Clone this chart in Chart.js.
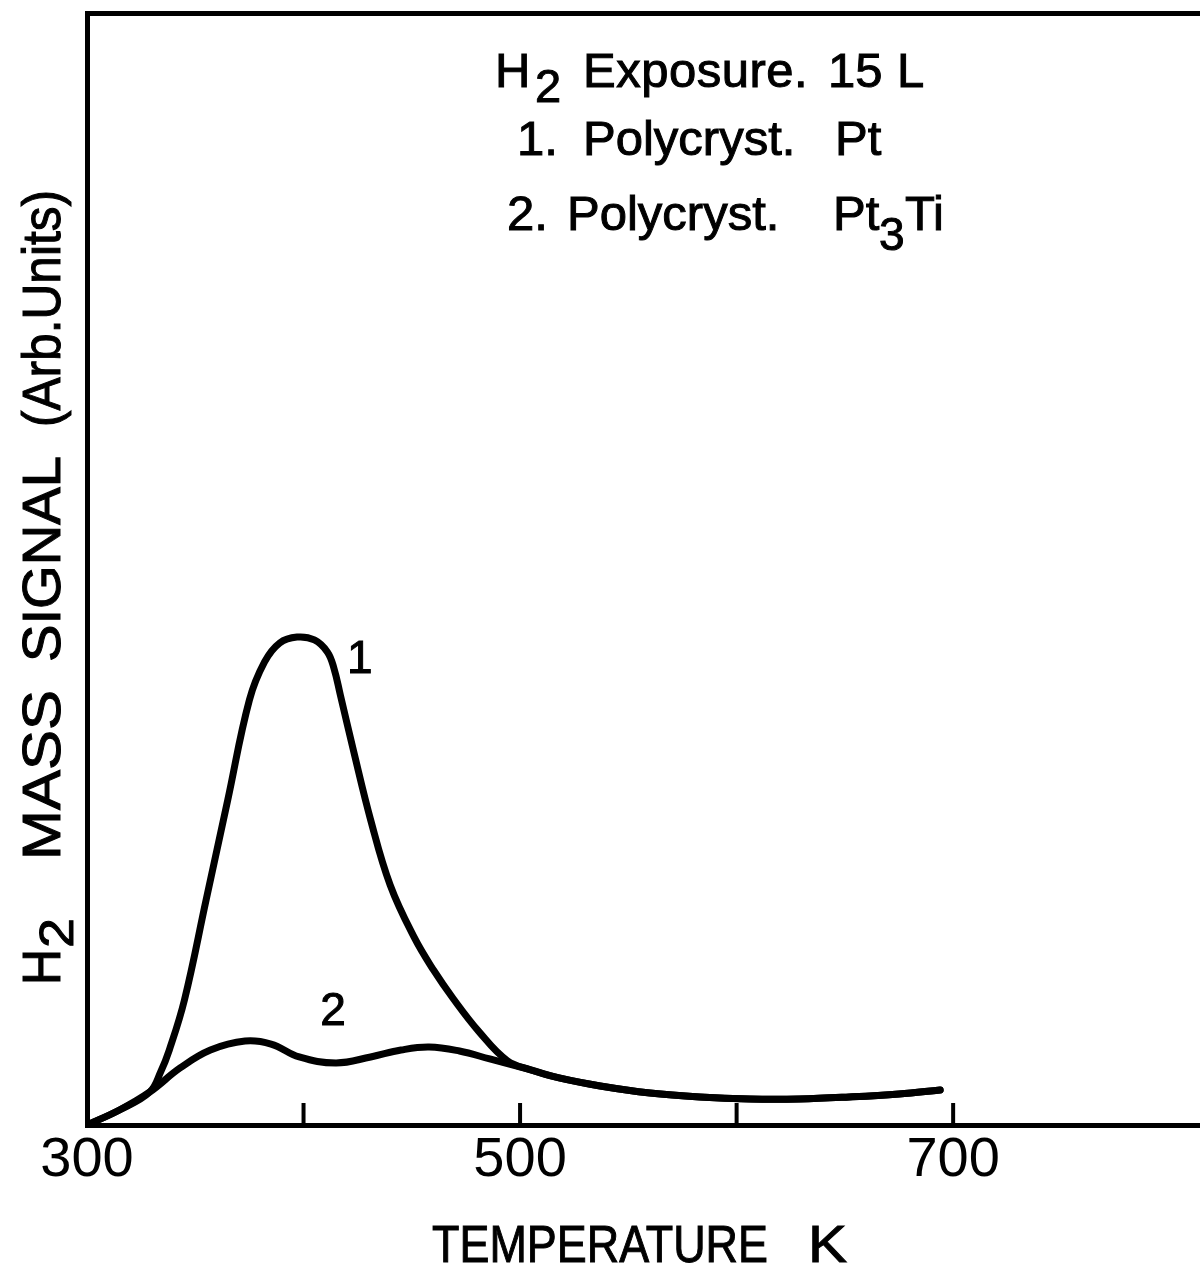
<!DOCTYPE html>
<html>
<head>
<meta charset="utf-8">
<script src="https://cdn.jsdelivr.net/npm/chart.js@4.4.0/dist/chart.umd.min.js"></script>
<style>
  html, body { margin: 0; padding: 0; background: #fff; }
</style>
</head>
<body>
<canvas id="tpd" width="1200" height="1273"></canvas>
<script>
// H2 desorption traces (temperature in K, signal in arb. units)
const temp_pt = [300, 315, 329, 334, 338, 345, 355, 365, 375, 382, 389, 397, 405, 411, 414, 417,
    423, 431, 440, 451, 460, 469, 481, 494, 505, 518, 537, 560, 583, 606, 629, 652, 675, 694];
const signal_pt = [0, 1.35, 2.97, 4.77, 6.74, 11.24, 20.23, 29.23, 38.22, 41.64, 43.35, 43.88, 43.62,
    42.54, 41.1, 38.67, 33.72, 27.43, 21.58, 16.91, 13.94, 11.4, 8.4, 5.8, 4.95, 4.23, 3.51, 2.88,
    2.52, 2.34, 2.34, 2.52, 2.79, 3.15];

const temp_pt3ti = [300, 315, 329, 343, 357, 373, 385, 398, 415, 431, 445, 458, 472, 486, 505,
    518, 537, 560, 583, 606, 629, 652, 675, 694];
const signal_pt3ti = [0, 1.35, 2.97, 5.13, 6.74, 7.55, 7.28, 6.12, 5.58, 6.12, 6.74, 7.01, 6.65, 5.94,
    4.95, 4.23, 3.51, 2.88, 2.52, 2.34, 2.34, 2.52, 2.79, 3.15];

const tick_values = [300, 400, 500, 600, 700];
const tick_labels = { 300: '300', 500: '500', 700: '700' };

const FONT = '"Liberation Sans", Arial, sans-serif';

function toPoints(xs, ys) {
    return xs.map((x, i) => ({ x: x, y: ys[i] }));
}

/**
 * Writes one piece of lettering; width squeezes it, spacing opens it up
 */
function put(ctx, text, x, y, size, width, spacing) {
    ctx.font = size + 'px ' + FONT;
    ctx.letterSpacing = (spacing || 0) + 'px';
    let m = ctx.measureText(text).width;
    ctx.save();
    ctx.translate(x, y);
    if (width) ctx.scale(width / m, 1);
    ctx.lineWidth = 1;
    ctx.fillText(text, 0, 0);
    ctx.strokeText(text, 0, 0);
    ctx.restore();
    ctx.letterSpacing = '0px';
}

const textPlugin = {
    id: 'figureText',
    afterDraw(chart) {
        const ctx = chart.ctx;
        const xs = chart.scales.x;
        const ys = chart.scales.y;
        const area = chart.chartArea;
        ctx.save();
        ctx.fillStyle = '#000';
        ctx.strokeStyle = '#000';

        // inward tick marks on the temperature axis
        ctx.lineWidth = 4;
        tick_values.slice(1).forEach(v => {
            let px = xs.getPixelForValue(v);
            ctx.beginPath();
            ctx.moveTo(px, area.bottom);
            ctx.lineTo(px, area.bottom - 22);
            ctx.stroke();
        });

        ctx.textBaseline = 'alphabetic';
        ctx.textAlign = 'left';
        // header
        put(ctx, 'H', 495, 87, 49);
        put(ctx, '2', 535, 102, 47);
        put(ctx, 'Exposure.', 583, 87, 49, 0, 0.5);
        put(ctx, '15', 828, 87, 49);
        put(ctx, 'L', 897, 87, 49);
        put(ctx, '1.', 517, 155, 49);
        put(ctx, 'Polycryst.', 583, 155, 49);
        put(ctx, 'Pt', 835, 155, 49);
        put(ctx, '2.', 507, 230, 49);
        put(ctx, 'Polycryst.', 567, 230, 49);
        put(ctx, 'Pt', 833, 230, 49);
        put(ctx, '3', 879, 250, 46);
        put(ctx, 'Ti', 905, 230, 49);

        // curve labels
        ctx.textAlign = 'center';
        ctx.textBaseline = 'middle';
        put(ctx, '1', xs.getPixelForValue(426), ys.getPixelForValue(41.8), 46);
        put(ctx, '2', xs.getPixelForValue(413.6), ys.getPixelForValue(10.1), 46);

        // axis titles
        ctx.textAlign = 'left';
        ctx.textBaseline = 'alphabetic';
        put(ctx, 'TEMPERATURE', 432, 1262, 52, 336);
        put(ctx, 'K', 808, 1262, 52, 39);

        ctx.translate(60, 0);
        ctx.rotate(-Math.PI / 2);
        // rotated frame: x runs up the page (x = -pageY), y runs right
        put(ctx, 'H', -985, 0, 53, 36);
        put(ctx, '2', -948, 13, 48, 30);
        put(ctx, 'MASS', -860, 0, 53, 170);
        put(ctx, 'SIGNAL', -662, 0, 53, 206);
        put(ctx, '(Arb.Units)', -427, 0, 53, 237);
        ctx.restore();
    }
};

const lineStyle = {
    borderColor: '#000',
    borderWidth: 7,
    pointRadius: 0,
    fill: false,
    tension: 0.4,
    borderCapStyle: 'round',
    borderJoinStyle: 'round'
};

const cfg = {
    type: 'line',
    data: {
        datasets: [
            Object.assign({ label: 'Polycryst. Pt', data: toPoints(temp_pt, signal_pt) }, lineStyle),
            Object.assign({ label: 'Polycryst. Pt3Ti', data: toPoints(temp_pt3ti, signal_pt3ti) }, lineStyle)
        ]
    },
    options: {
        responsive: false,
        animation: false,
        layout: { padding: 0 },
        plugins: {
            legend: { display: false },
            tooltip: { enabled: false }
        },
        scales: {
            x: {
                type: 'linear',
                position: 'bottom',
                min: 300,
                max: 814,
                afterBuildTicks: s => { s.ticks = tick_values.map(v => ({ value: v })); },
                afterFit: s => { s.height = 148; },
                grid: { display: false, drawTicks: false },
                border: { display: true, color: '#000', width: 5 },
                ticks: {
                    color: '#000',
                    padding: 2,
                    font: { family: FONT, size: 56 },
                    maxRotation: 0,
                    callback: v => tick_labels[v] || ''
                }
            },
            x2: {
                type: 'linear',
                position: 'top',
                min: 300,
                max: 814,
                afterFit: s => { s.height = 13; },
                grid: { display: false, drawTicks: false },
                border: { display: true, color: '#000', width: 5 },
                ticks: { display: false }
            },
            y: {
                min: 0,
                max: 100,
                afterFit: s => { s.width = 87; },
                grid: { display: false, drawTicks: false },
                border: { display: true, color: '#000', width: 5 },
                ticks: { display: false }
            }
        }
    },
    plugins: [textPlugin]
};

new Chart(document.getElementById('tpd').getContext('2d'), cfg);
</script>
</body>
</html>
